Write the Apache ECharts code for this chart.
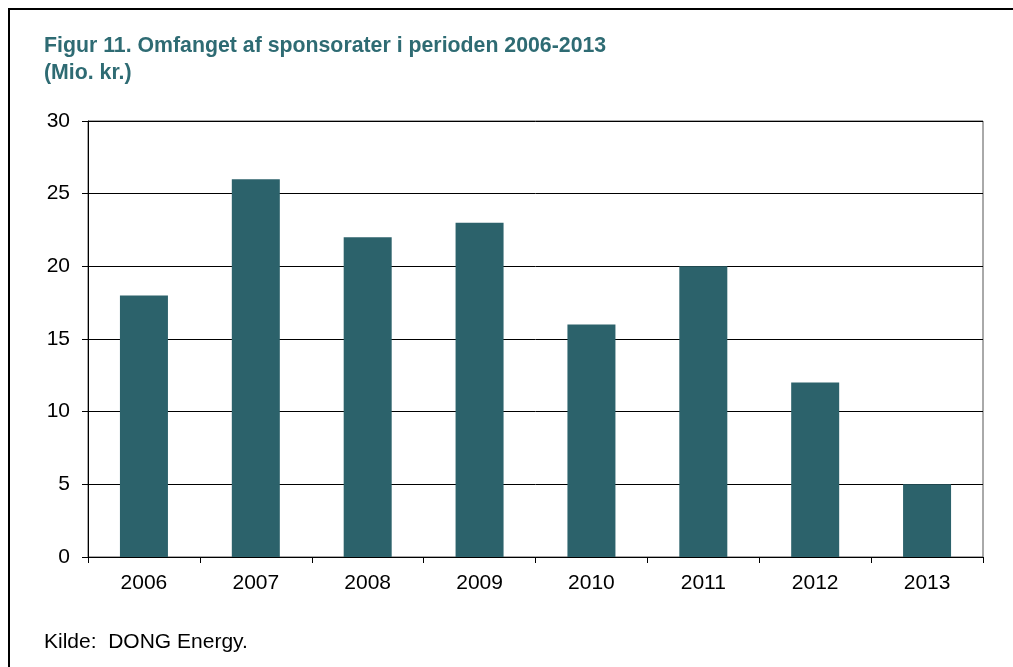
<!DOCTYPE html>
<html>
<head>
<meta charset="utf-8">
<script src="https://cdn.jsdelivr.net/npm/echarts@6/dist/echarts.min.js"></script>
<style>
html,body{margin:0;padding:0;background:#fff;}
#chart{width:1013px;height:667px;}
</style>
</head>
<body>
<div id="chart"></div>
<script>
const categories = ['2006','2007','2008','2009','2010','2011','2012','2013'];
const values = [18, 26, 22, 23, 16, 20, 12, 5];
const yTicks = {min: 0, max: 30, interval: 5};
const titleText = 'Figur 11. Omfanget af sponsorater i perioden 2006-2013\n(Mio. kr.)';
const sourceText = 'Kilde:  DONG Energy.';

const chart = echarts.init(document.getElementById('chart'), null, {renderer: 'canvas'});
const font = 'Liberation Sans, Arial, sans-serif';
chart.setOption({
  animation: false,
  backgroundColor: '#ffffff',
  title: {
    text: titleText,
    left: 44,
    top: 32,
    padding: 0,
    textStyle: {fontFamily: font, fontSize: 21.3, fontWeight: 'bold', color: '#2e6b73', lineHeight: 27.5}
  },
  graphic: [
    {type: 'rect', shape: {x: 9, y: 9, width: 1100, height: 800}, style: {fill: 'none', stroke: '#000', lineWidth: 2}, z: 10},
    {type: 'text', left: 44, top: 632, style: {text: sourceText, font: '21px ' + font, fill: '#000'}}
  ],
  grid: {left: 88, right: 30, top: 121, bottom: 110, show: true, borderColor: '#555', borderWidth: 1, backgroundColor: 'transparent'},
  xAxis: {
    type: 'category',
    data: categories,
    boundaryGap: true,
    axisLine: {show: true, lineStyle: {color: '#000', width: 1}},
    axisTick: {show: true, length: 6, lineStyle: {color: '#000'}},
    axisLabel: {color: '#000', fontSize: 21, fontFamily: font, margin: 16}
  },
  yAxis: {
    type: 'value',
    min: yTicks.min, max: yTicks.max, interval: yTicks.interval,
    axisLine: {show: true, lineStyle: {color: '#000', width: 1}},
    axisTick: {show: true, length: 6, lineStyle: {color: '#000'}},
    axisLabel: {color: '#000', fontSize: 21, fontFamily: font, margin: 18},
    splitLine: {show: true, lineStyle: {color: '#000', width: 1}}
  },
  series: [{
    type: 'bar',
    data: values,
    barWidth: 48,
    itemStyle: {color: '#2c626b'}
  }]
});
</script>
</body>
</html>
